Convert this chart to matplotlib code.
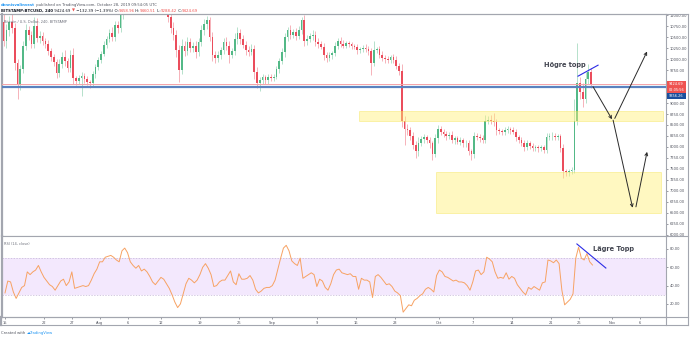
import numpy as np
import matplotlib
matplotlib.use('Agg')
import matplotlib.pyplot as plt
from matplotlib.patches import Rectangle
from matplotlib.lines import Line2D
from matplotlib.transforms import blended_transform_factory

# ── BTCUSD 12h bars, 15 Jul - 28 Oct 2019 (x = days since 15 Jul) ──
first_open = 10850
closes = [
    10400, 10650, 10850, 10700, 9900, 9400, 9770, 10300, 10650, 10550,
    10350, 10750, 10480, 10520, 10400, 10350, 10180, 10050, 9930, 9680,
    9880, 10050, 9950, 9800, 10090, 9560, 9500, 9560, 9620, 9550,
    9480, 9450, 9650, 9820, 9980, 10120, 10320, 10450, 10600, 10500,
    10780, 10700, 11000, 11500, 11800, 11600, 11900, 12000, 11700, 11900,
    11800, 11500, 11400, 11600, 11500, 11300, 11400, 11300, 11150, 10950,
    10700, 10550, 10200, 9750, 10300, 10180, 10380, 10250, 10300, 10150,
    10380, 10650, 10800, 10880, 10500, 10100, 10020, 10080, 10200, 10380,
    10300, 10100, 10180, 10450, 10600, 10450, 10320, 10200, 10160, 10230,
    9700, 9450, 9520, 9580, 9520, 9600, 9560, 9600, 9770, 9950,
    10150, 10500, 10650, 10540, 10620, 10520, 10650, 10880, 10400, 10450,
    10520, 10550, 10390, 10350, 10280, 10100, 10020, 10080, 10130, 10300,
    10420, 10350, 10300, 10360, 10330, 10300, 10280, 10200, 10220, 10250,
    10230, 10180, 9900, 10200, 10220, 10100, 10020, 10000, 9980, 10050,
    9980, 9850, 9730, 8600, 8400, 8380, 8250, 8050, 7900, 8100,
    8180, 8220, 8150, 8080, 7850, 8200, 8420, 8350, 8300, 8250,
    8280, 8160, 8200, 8120, 8150, 8080, 8100, 7900, 7830, 8250,
    8230, 8200, 8160, 8600, 8620, 8580, 8560, 8380, 8360, 8330,
    8380, 8400, 8380, 8350, 8220, 8170, 8100, 8000, 8080, 8030,
    7980, 7990, 7970, 7990, 7930, 8220, 8240, 8260, 8230, 8240,
    7980, 7450, 7430, 7460, 7480, 8600, 9450, 9250, 9100, 9550,
    9700, 9424.69,
]
upper_wick = [
    200, 150, 120, 180, 120, 100, 90, 120, 150, 100,
    80, 200, 180, 120, 100, 80, 90, 70, 60, 80,
    120, 100, 150, 80, 110, 150, 60, 80, 90, 70,
    60, 50, 80, 60, 70, 60, 80, 70, 90, 120,
    80, 90, 200, 150, 150, 300, 100, 300, 150, 120,
    100, 150, 120, 100, 90, 200, 100, 100, 150, 100,
    100, 150, 100, 120, 150, 120, 120, 100, 90, 100,
    90, 120, 100, 90, 80, 120, 90, 100, 80, 90,
    120, 100, 80, 150, 120, 90, 100, 80, 90, 100,
    80, 120, 80, 70, 60, 60, 50, 70, 60, 80,
    100, 90, 80, 120, 70, 90, 100, 80, 120, 100,
    70, 100, 90, 80, 60, 80, 60, 70, 60, 90,
    60, 70, 80, 60, 50, 60, 50, 70, 50, 60,
    80, 60, 80, 200, 60, 70, 90, 80, 60, 50,
    60, 80, 70, 150, 100, 120, 80, 100, 80, 120,
    80, 70, 60, 80, 60, 100, 80, 60, 70, 60,
    60, 80, 60, 50, 70, 60, 50, 70, 60, 100,
    60, 60, 70, 120, 80, 100, 200, 80, 60, 60,
    70, 80, 60, 70, 60, 50, 60, 70, 80, 60,
    50, 60, 50, 60, 50, 90, 80, 70, 60, 60,
    50, 80, 60, 50, 60, 500, 910, 150, 200, 150,
    180, 100,
]
lower_wick = [
    100, 150, 120, 100, 150, 300, 100, 80, 100, 120,
    100, 90, 100, 120, 80, 100, 90, 100, 80, 120,
    100, 80, 120, 100, 90, 120, 80, 70, 400, 100,
    80, 100, 60, 80, 70, 60, 60, 80, 70, 100,
    90, 100, 80, 100, 120, 150, 100, 120, 150, 100,
    120, 100, 100, 150, 120, 100, 150, 100, 120, 100,
    100, 120, 150, 270, 100, 120, 90, 100, 80, 120,
    80, 90, 100, 120, 100, 150, 100, 80, 90, 80,
    100, 200, 80, 90, 100, 120, 80, 100, 90, 80,
    150, 100, 170, 80, 90, 80, 60, 70, 60, 80,
    70, 100, 80, 90, 60, 80, 70, 90, 100, 80,
    70, 80, 90, 100, 60, 120, 90, 70, 80, 60,
    70, 80, 60, 50, 60, 70, 60, 80, 60, 50,
    60, 80, 260, 70, 60, 80, 70, 100, 60, 70,
    60, 80, 100, 150, 360, 100, 90, 100, 150, 100,
    80, 90, 70, 100, 150, 80, 100, 70, 80, 90,
    70, 80, 90, 60, 70, 80, 70, 90, 130, 80,
    60, 80, 70, 80, 70, 60, 80, 100, 70, 60,
    60, 70, 80, 60, 90, 70, 80, 90, 60, 80,
    70, 60, 80, 60, 70, 60, 70, 80, 70, 60,
    90, 150, 100, 80, 70, 80, 100, 150, 190, 100,
    120, 80,
]
rsi = [
    32, 45, 44, 33, 26, 32, 38, 40, 55, 52,
    55, 57, 62, 55, 49, 45, 41, 39, 35, 40,
    45, 47, 40, 44, 55, 37, 38, 39, 40, 39,
    40, 46, 53, 58, 66, 66, 71, 72, 73, 71,
    68, 66, 78, 81, 76, 66, 62, 59, 62, 56,
    58, 55, 50, 44, 41, 45, 49, 47, 42, 37,
    30, 22, 16, 20, 31, 42, 48, 46, 43, 46,
    52, 60, 64, 59, 52, 39, 40, 44, 46, 46,
    51, 56, 44, 41, 53, 47, 47, 48, 51, 46,
    36, 32, 34, 37, 38, 38, 40, 46, 58, 70,
    81, 84, 78, 67, 64, 62, 70, 48, 50, 52,
    54, 52, 39, 47, 45, 38, 35, 42, 52, 57,
    58, 54, 53, 52, 53, 50, 50, 36, 48, 46,
    46, 44, 27, 50, 52, 49, 45, 41, 42, 39,
    34, 32, 29, 11, 15, 19, 18, 24, 26, 29,
    31, 36, 38, 36, 33, 51, 57, 55, 50, 49,
    47, 45, 46, 44, 44, 43, 40, 35, 44, 56,
    57, 52, 55, 71, 69, 66, 55, 48, 49, 48,
    54, 47, 50, 48, 41, 37, 33, 30, 38, 36,
    39, 37, 35, 43, 44, 68, 67, 65, 68, 64,
    35, 19, 22, 25, 31, 70, 82, 70, 68, 75,
    66, 62.5,
]

level_line = 9356.26
countdown = '02:05:56'

tick_days = [0, 7, 12, 17, 22, 28, 35, 42, 48, 56, 63, 70, 78, 84, 91, 98, 103, 109, 114]
tick_names = ['15', '22', '27', 'Aug', '6', '12', '19', '26', 'Sep', '9', '16', '23',
              'Oct', '7', '14', '21', '26', 'Nov', '6']

# drawings: yellow zones (day0, day1, low, high), arrows and trend lines
zones = [(63.6, 118.1, 8590, 8820), (77.4, 117.8, 6500, 7430)]
arrows = [((105.6, 9370), (109.0, 8630)),
          ((109.5, 8650), (115.3, 10170)),
          ((109.2, 8610), (112.7, 6620)),
          ((113.3, 6640), (115.3, 7890))]
price_trend = ((102.9, 106.5), (9610, 9860))
rsi_trend = ((102.7, 107.9), (85.5, 59.2))

# ── style ──
UP, DN = '#53b987', '#eb4d5c'
UP_W, DN_W = '#a9dcc3', '#f5a6ae'
FRAME = '#a3a6af'
TXT = '#50535e'
plt.rcParams['font.family'] = ['DejaVu Sans']

W, H = 691, 339
fig = plt.figure(figsize=(W / 100, H / 100), dpi=100, facecolor='white')
fx = lambda x: x / W
fy = lambda y: 1 - y / H

ax = fig.add_axes([fx(2), fy(236), (666 - 2) / W, (236 - 14) / H])
ax_r = fig.add_axes([fx(2), fy(317), (666 - 2) / W, (317 - 236) / H])
XL = (-0.54, 118.7)

# candles
closes = np.array(closes, dtype=float)
opens = np.concatenate([[first_open], closes[:-1]])
highs = np.maximum(opens, closes) + np.array(upper_wick)
lows = np.minimum(opens, closes) - np.array(lower_wick)
xc = 0.5 * np.arange(len(closes)) - 0.25
up = closes >= opens
ax.vlines(xc, lows, highs, colors=np.where(up, UP_W, DN_W), lw=0.6, zorder=2)
ax.bar(xc, np.maximum(np.abs(closes - opens), 15), bottom=np.minimum(opens, closes),
       width=0.3, color=np.where(up, UP, DN), lw=0, zorder=3)

ax.axhline(closes[-1], color='#f5a3a8', lw=0.7, zorder=4)
ax.axhline(level_line, color='#5a82bf', lw=1.6, zorder=4)

for d0, d1, lo, hi in zones:
    ax.add_patch(Rectangle((d0, lo), d1 - d0, hi - lo, fc='#fff176', ec='#f3e24a',
                           lw=0.6, alpha=0.45, zorder=5))

for (x0, y0), (x1, y1) in arrows:
    ax.annotate('', xy=(x1, y1), xytext=(x0, y0),
                arrowprops=dict(arrowstyle='->', color='#2a2a2a', lw=0.7,
                                shrinkA=0, shrinkB=0, mutation_scale=5), zorder=6)
ax.plot(*price_trend, color='#2b2be6', lw=0.8, zorder=6)
ax.text(100.6, 9864, 'Högre topp', fontsize=4.8, fontweight='bold', color='#434651',
        ha='center', va='center', zorder=7)

ax.set_xlim(*XL)
ax.set_ylim(5977, 11023)
ax.yaxis.tick_right()
# 9250 / 9500 sit under the price labels on the scale
yt = [v for v in range(6000, 11001, 250) if v not in (9250, 9500)]
ax.set_yticks(yt)
ax.set_yticklabels([f'{v:.2f}' for v in yt])
ax.tick_params(axis='y', labelsize=2.6, colors=TXT, length=1.5, width=0.4, pad=1.2)
ax.tick_params(axis='x', bottom=False, labelbottom=False)
ax.text(0.003, 0.975, 'Bitcoin / U.S. Dollar, 240, BITSTAMP', transform=ax.transAxes,
        fontsize=2.5, color='#6a6d78', va='top')

# price labels on the scale
tr = blended_transform_factory(ax.transAxes, ax.transData)
for yc, label, col in [(closes[-1], f'{closes[-1]:.2f}', '#ef5350'),
                       (closes[-1] - 138, countdown, '#ef5350'),
                       (9150, f'{level_line:.2f}', '#1c4f9c')]:
    ax.add_patch(Rectangle((1.0008, yc - 66), 0.029, 132, transform=tr, fc=col,
                           ec='none', clip_on=False, zorder=10))
    ax.text(1.0155, yc, label, transform=tr, fontsize=2.5, color='white',
            ha='center', va='center', clip_on=False, zorder=11)

# RSI pane
xr = 0.5 * np.arange(len(rsi))
ax_r.axhspan(30, 70, color='#f3e8fd', lw=0, zorder=0)
for lvl in (30, 70):
    ax_r.axhline(lvl, color='#c3b5d6', lw=0.5, ls=(0, (2, 2)), zorder=1)
ax_r.plot(xr, rsi, color='#f7a263', lw=0.7, zorder=3)
ax_r.plot(*rsi_trend, color='#2b2be6', lw=0.8, zorder=4)
ax_r.text(109.3, 80.5, 'Lägre Topp', fontsize=4.8, fontweight='bold', color='#434651',
          ha='center', va='center', zorder=5)
ax_r.text(0.003, 0.93, 'RSI (14, close)', transform=ax_r.transAxes, fontsize=2.5,
          color='#6a6d78', va='top')
ax_r.set_xlim(*XL)
ax_r.set_ylim(5.7, 94.2)
ax_r.yaxis.tick_right()
ax_r.set_yticks([20, 40, 60, 80])
ax_r.set_yticklabels(['20.00', '40.00', '60.00', '80.00'])
ax_r.set_xticks(tick_days)
ax_r.set_xticklabels(tick_names)
ax_r.tick_params(axis='y', labelsize=2.6, colors=TXT, length=1.5, width=0.4, pad=1.2)
ax_r.tick_params(axis='x', labelsize=2.6, colors=TXT, length=1.5, width=0.4, pad=1.5)

for a in (ax, ax_r):
    a.set_facecolor('white')
    for sp in a.spines.values():
        sp.set_color(FRAME)
        sp.set_linewidth(0.8)
    a.spines['left'].set_linewidth(1.6)

# outer frame of the widget
def fline(x0, y0, x1, y1, lw=0.8):
    fig.add_artist(Line2D([fx(x0), fx(x1)], [fy(y0), fy(y1)], color=FRAME, lw=lw))

fline(0, 14, 688, 14)
fline(666, 236, 688, 236)
fline(0, 317, 688, 317)
fline(0, 325, 688, 325)
fline(688, 14, 688, 325)
fline(666, 317, 666, 325)
fline(1, 317, 1, 325, lw=1.6)

# header and footer lines
renderer = fig.canvas.get_renderer()

def chain(x, y, parts, size):
    for s, col, wt in parts:
        t = fig.text(x, y, s, color=col, fontsize=size, fontweight=wt,
                     va='center', ha='left', family=['DejaVu Sans'])
        x = t.get_window_extent(renderer=renderer).x1 / fig.bbox.width

chain(fx(1), fy(5), [('dennisvalinvest', '#2196f3', 'bold'),
                     (' published on TradingView.com, October 28, 2019 09:54:05 UTC', TXT, 'normal')], 2.7)
chain(fx(1), fy(11), [('BITSTAMP:BTCUSD, 240', '#131722', 'bold'),
                      (' 9424.69 ', '#131722', 'normal'), ('▼', '#ef5350', 'normal'),
                      (' −132.39 (−1.39%) O:', '#131722', 'normal'), ('9458.96', '#ef5350', 'normal'),
                      (' H:', '#131722', 'normal'), ('9460.51', '#ef5350', 'normal'),
                      (' L:', '#131722', 'normal'), ('9288.42', '#ef5350', 'normal'),
                      (' C:', '#131722', 'normal'), ('9424.69', '#ef5350', 'normal')], 2.8)
chain(fx(1), fy(333), [('Created with ', TXT, 'normal'), ('☁', '#2196f3', 'normal'),
                       ('TradingView', '#2196f3', 'normal')], 2.7)

fig.savefig('out.png', dpi=100, facecolor='white')
